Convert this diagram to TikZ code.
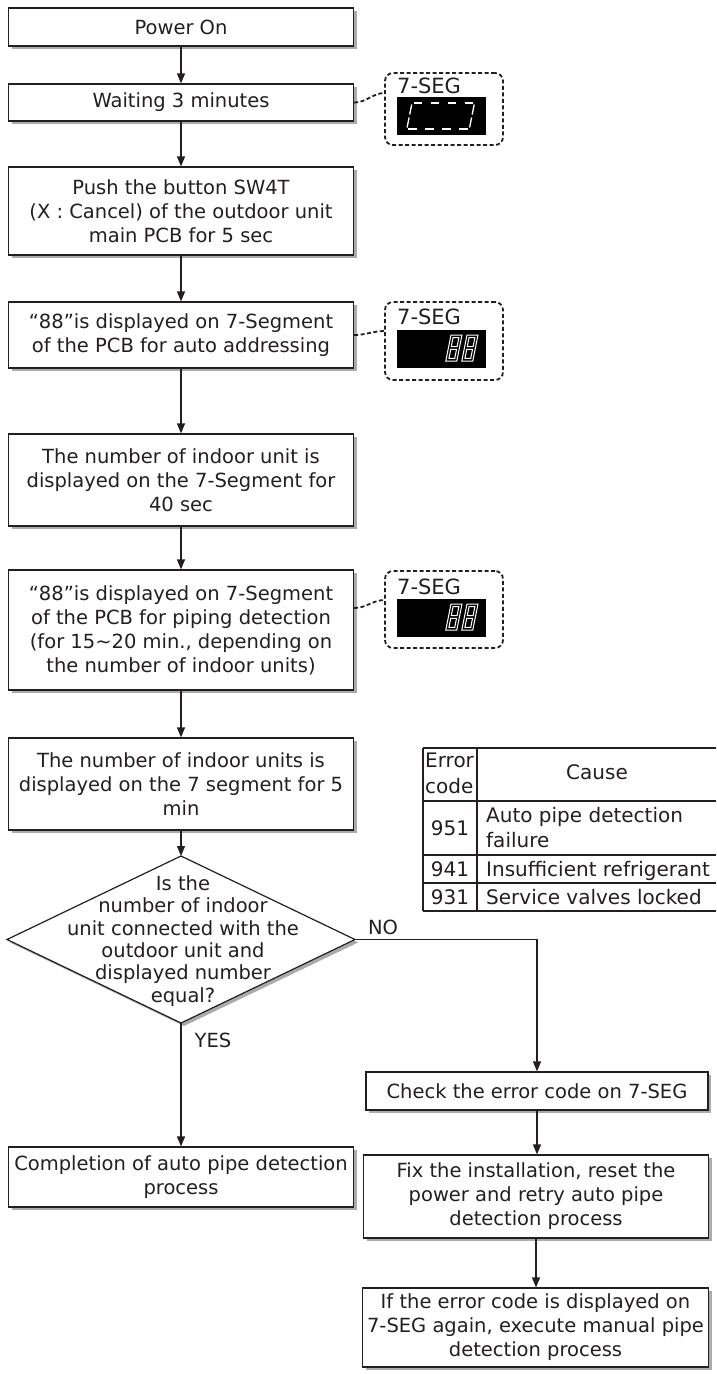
\documentclass[tikz,border=0pt]{standalone}
\usepackage{fontspec}
\setmainfont{DejaVu Sans}
\usetikzlibrary{arrows.meta,shapes.geometric,shadows}
\definecolor{ink}{HTML}{231F20}
\definecolor{shade}{HTML}{ABABAB}
\tikzset{
  fbox/.style={draw=ink, line width=1.2pt, fill=white, minimum width=345pt, inner sep=0pt,
    align=center, font=\fontsize{19.5}{24}\selectfont, text=ink,
    drop shadow={shadow xshift=3pt, shadow yshift=-3pt, fill=shade, opacity=1}},
  flow/.style={draw=ink, line width=1.2pt, -{Triangle[length=10pt,width=8pt]}},
  plain/.style={draw=ink, line width=1.2pt},
  segbox/.style={draw=ink, line width=1.8pt, dash pattern=on 4pt off 2.5pt, rounded corners=8pt,
    minimum width=118pt, inner sep=0pt},
  segline/.style={draw=ink, line width=1.8pt, dash pattern=on 4pt off 2.5pt},
  display/.style={fill=black, minimum width=89pt, minimum height=38pt, inner sep=0pt},
  seg/.style={draw=white, line width=1pt},
  lbl/.style={font=\fontsize{19.5}{24}\selectfont, text=ink, inner sep=0pt},
  seglbl/.style={font=\fontsize{21}{24}\selectfont, text=ink, inner sep=0pt, anchor=base west},
  tlbl/.style={font=\fontsize{20}{24}\selectfont, text=ink, inner sep=0pt},
  tab/.style={draw=ink, line width=1.2pt},
}
\newcommand{\eightdigit}[2]{%
  \begin{scope}[shift={(#1,#2)}, xslant=0.2]
    \draw[seg] (0,0) -- (11,0) -- (11,26) -- (0,26) -- cycle;
    \draw[seg] (2.6,2.6) -- (8.4,2.6) -- (8.4,11.6) -- (2.6,11.6) -- cycle;
    \draw[seg] (2.6,14.4) -- (8.4,14.4) -- (8.4,23.4) -- (2.6,23.4) -- cycle;
  \end{scope}}
\begin{document}
\begin{tikzpicture}[x=1pt,y=-1pt]
\useasboundingbox (0,0) rectangle (716,1374);

% left column
\node[fbox, minimum height=38pt] (p1) at (181,27) {Power On};
\node[fbox, minimum height=37pt] (p2) at (181,102.5) {Waiting 3 minutes};
\node[fbox, minimum height=88pt] (p3) at (181,211) {Push the button SW4T\\(X : Cancel) of the outdoor unit\\main PCB for 5 sec};
\node[fbox, minimum height=66pt] (p4) at (181,335) {“88”is displayed on 7-Segment\\of the PCB for auto addressing};
\node[fbox, minimum height=92pt] (p5) at (181,480) {The number of indoor unit is\\displayed on the 7-Segment for\\40 sec};
\node[fbox, minimum height=120pt] (p6) at (181,630) {“88”is displayed on 7-Segment\\of the PCB for piping detection\\(for 15\textasciitilde20 min., depending on\\the number of indoor units)};
\node[fbox, minimum height=92pt] (p7) at (181,784) {The number of indoor units is\\displayed on the 7 segment for 5\\min};

\node[diamond, draw=ink, line width=1.2pt, fill=white, minimum width=348pt, minimum height=167pt,
  inner sep=0pt, outer sep=0pt,
  drop shadow={shadow xshift=3pt, shadow yshift=-3pt, fill=shade, opacity=1}] (d) at (181,939.5) {};
\node[lbl, align=center, font=\fontsize{19.5}{22.4}\selectfont] (dt) at (183,941)
  {Is the\\number of indoor\\unit connected with the\\outdoor unit and\\displayed number\\equal?};

\node[fbox, minimum height=60pt] (comp) at (181,1177) {Completion of auto pipe detection\\process};

% right column
\node[fbox, minimum width=342pt, minimum height=38pt] (chk) at (537,1091) {Check the error code on 7-SEG};
\node[fbox, minimum height=83pt] (fix) at (536,1196.5) {Fix the installation, reset the\\power and retry auto pipe\\detection process};
\node[fbox, minimum width=346pt, minimum height=79pt] (iff) at (535.5,1327.5) {If the error code is displayed on\\7-SEG again, execute manual pipe\\detection process};

% connectors
\draw[flow] (p1.south) -- (p2.north);
\draw[flow] (p2.south) -- (p3.north);
\draw[flow] (p3.south) -- (p4.north);
\draw[flow] (p4.south) -- (p5.north);
\draw[flow] (p5.south) -- (p6.north);
\draw[flow] (p6.south) -- (p7.north);
\draw[flow] (p7.south) -- (d.north);
\draw[flow] (d.south) -- (comp.north);
\draw[flow] (d.east) -| (chk.north);
\draw[flow] (chk.south) -- (chk.south |- fix.north);
\draw[flow] (fix.south) -- (fix.south |- iff.north);
\node[lbl] (no) at (383,927) {NO};
\node[lbl] (yes) at (213,1040) {YES};

% 7-SEG callout 1
\node[segbox, minimum height=72pt] (c1) at (444,109) {};
\node[seglbl] (c1t) at (397,93) {7-SEG};
\node[display] (c1d) at (441.5,116) {};
\coordinate (c1in) at (385,93);
\draw[segline] (p2.east) to[out=0,in=180] (c1in);
\foreach \k in {0,1,2,3} {
  \begin{scope}[shift={(412+17*\k,103)}, xslant=0.2]
    \draw[seg, line width=1.3pt] (1.5,0) -- (10,0);
    \draw[seg, line width=1.3pt] (1.5,26) -- (10,26);
  \end{scope}}
\begin{scope}[shift={(412,103)}, xslant=0.2]
  \draw[seg, line width=1.3pt] (0,1.5) -- (0,11.5);
  \draw[seg, line width=1.3pt] (0,14.5) -- (0,24.5);
\end{scope}
\begin{scope}[shift={(463,103)}, xslant=0.2]
  \draw[seg, line width=1.3pt] (11.5,1.5) -- (11.5,11.5);
  \draw[seg, line width=1.3pt] (11.5,14.5) -- (11.5,24.5);
\end{scope}

% 7-SEG callout 2
\node[segbox, minimum height=78pt] (c2) at (444,341) {};
\node[seglbl] (c2t) at (397,324) {7-SEG};
\node[display] (c2d) at (441.5,348.5) {};
\coordinate (c2in) at (385,331);
\draw[segline] (p4.east) to[out=0,in=180] (c2in);
\eightdigit{451}{335}
\eightdigit{467}{335}

% 7-SEG callout 3
\node[segbox, minimum height=77pt] (c3) at (444,609.5) {};
\node[seglbl] (c3t) at (397,594) {7-SEG};
\node[display] (c3d) at (441.5,617.5) {};
\coordinate (c3in) at (385,600);
\draw[segline] ([yshift=22pt]p6.east) to[out=0,in=180] (c3in);
\eightdigit{451}{604}
\eightdigit{467}{604}

% error table
\draw[tab] (423,748) -- (716,748);
\draw[tab] (423,801) -- (716,801);
\draw[tab] (423,855) -- (716,855);
\draw[tab] (423,883) -- (716,883);
\draw[tab] (423,911) -- (716,911);
\draw[tab] (423,748) -- (423,911);
\draw[tab] (477,748) -- (477,911);
\node[tlbl, anchor=base west] (th1) at (425,767) {Error};
\node[tlbl, anchor=base west] (th2) at (425,793) {code};
\node[tlbl, anchor=base] (th3) at (597,779) {Cause};
\node[tlbl, anchor=base] (r1a) at (450,835) {951};
\node[tlbl, anchor=base west] (r1b) at (486,822) {Auto pipe detection};
\node[tlbl, anchor=base west] (r1c) at (486,847) {failure};
\node[tlbl, anchor=base] (r2a) at (450,876) {941};
\node[tlbl, anchor=base west] (r2b) at (486,876) {Insufficient refrigerant};
\node[tlbl, anchor=base] (r3a) at (450,904) {931};
\node[tlbl, anchor=base west] (r3b) at (486,904) {Service valves locked};
\end{tikzpicture}
\end{document}
